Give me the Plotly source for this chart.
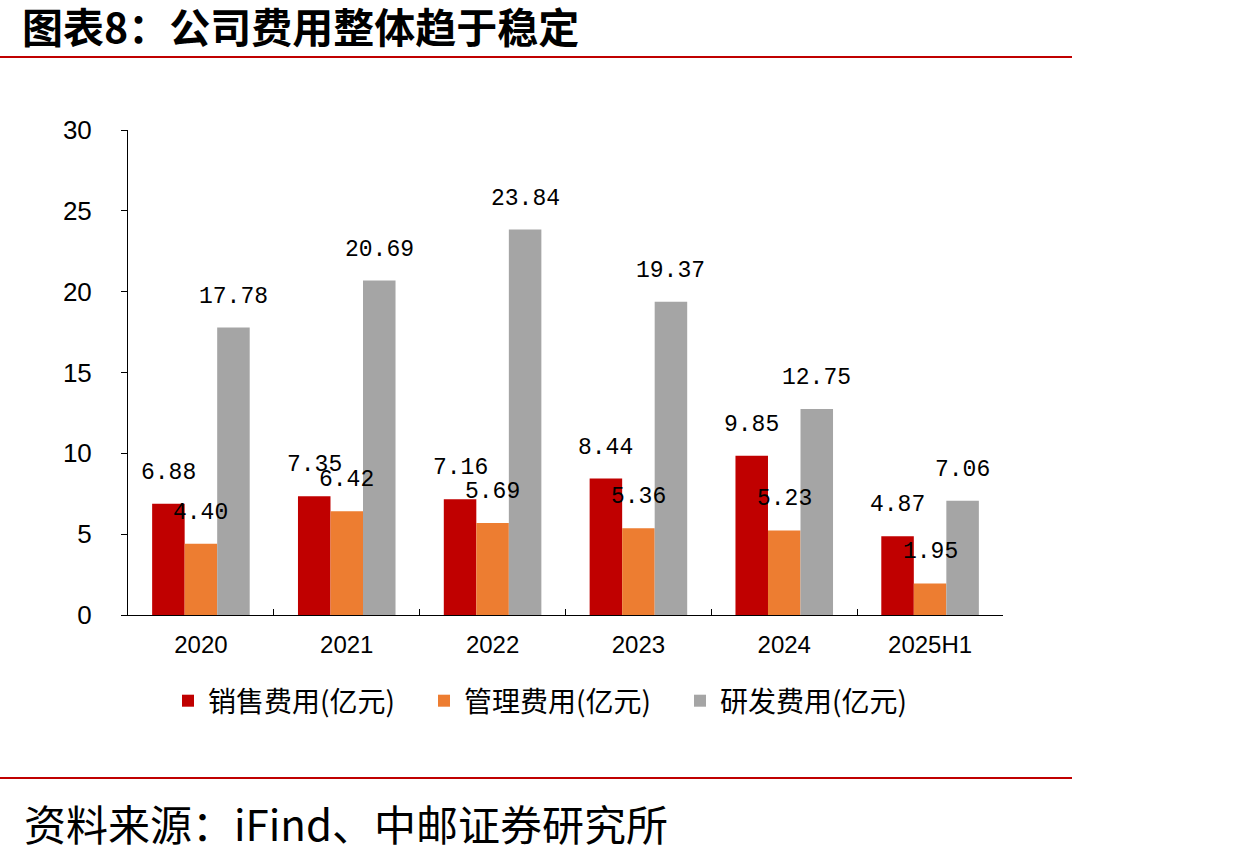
import plotly.graph_objects as go

categories = ["2020", "2021", "2022", "2023", "2024", "2025H1"]
sales = [6.88, 7.35, 7.16, 8.44, 9.85, 4.87]
admin = [4.40, 6.42, 5.69, 5.36, 5.23, 1.95]
rnd = [17.78, 20.69, 23.84, 19.37, 12.75, 7.06]
series_names = ["销售费用(亿元)", "管理费用(亿元)", "研发费用(亿元)"]
series_colors = ["#C00000", "#ED7D31", "#A5A5A5"]
y_ticks = [0, 5, 10, 15, 20, 25, 30]

WIDTH, HEIGHT = 1234, 855
L, R, T, B = 128, 231, 130, 240
PW = WIDTH - L - R
PH = HEIGHT - T - B

def px2x(px):
    return (px - L) / PW

def py2y(py):
    return (HEIGHT - B - py) / PH

fig = go.Figure()
all_series = [sales, admin, rnd]
for name, vals, col in zip(series_names, all_series, series_colors):
    fig.add_trace(go.Bar(x=categories, y=vals, name=name, marker_color=col,
                         marker_line_width=0))

bargap = 0.331
cat_px = PW / len(categories)
bar_px = cat_px * (1 - bargap) / 3

annotations = []
for i, vals in enumerate(all_series):
    for j, v in enumerate(vals):
        annotations.append(dict(
            x=j, y=v, xref="x", yref="y", text=f"{v:.2f}", showarrow=False,
            xanchor="center", yanchor="bottom", xshift=(i - 1) * bar_px, yshift=16,
            font=dict(family="Liberation Mono", size=23, color="#000000")))

annotations.append(dict(
    x=px2x(22), y=py2y(822), xref="paper", yref="paper", xanchor="left", yanchor="middle",
    text="资料来源：iFind、中邮证券研究所", showarrow=False,
    font=dict(family="Noto Sans CJK SC", size=42, color="#000000")))

shapes = [
    dict(type="line", xref="paper", yref="paper", x0=px2x(0), x1=px2x(1072),
         y0=py2y(57), y1=py2y(57), line=dict(color="#C00000", width=2)),
    dict(type="line", xref="paper", yref="paper", x0=px2x(0), x1=px2x(1072),
         y0=py2y(778), y1=py2y(778), line=dict(color="#C00000", width=2)),
]

fig.update_layout(
    width=WIDTH, height=HEIGHT,
    margin=dict(l=L, r=R, t=T, b=B, autoexpand=False),
    paper_bgcolor="white", plot_bgcolor="white",
    barmode="group", bargap=bargap, bargroupgap=0,
    title=dict(text="<b>图表8：公司费用整体趋于稳定</b>", x=22 / WIDTH, xanchor="left",
               y=1 - 29 / HEIGHT, yanchor="middle", xref="container", yref="container",
               font=dict(family="Noto Sans CJK SC", size=41, color="#000000")),
    xaxis=dict(type="category", range=[-0.5, len(categories) - 0.5], showline=True,
               linecolor="#000000", linewidth=1,
               ticks="inside", tickson="boundaries", ticklen=6, tickcolor="#000000",
               showgrid=False,
               tickfont=dict(family="Liberation Sans", size=24, color="#000000"),
               ticklabelstandoff=8),
    yaxis=dict(range=[0, 30], tickvals=y_ticks, showline=True, linecolor="#000000",
               linewidth=1, ticks="outside", ticklen=6, tickcolor="#000000",
               showgrid=False, zeroline=False,
               tickfont=dict(family="Liberation Sans", size=26, color="#000000"),
               ticklabelstandoff=24),
    legend=dict(orientation="h", x=px2x(552), xanchor="center", y=py2y(701),
                yanchor="middle", font=dict(family="Noto Sans CJK SC", size=28,
                                            color="#000000"),
                entrywidth=211, entrywidthmode="pixels", itemwidth=30),
    annotations=annotations, shapes=shapes, showlegend=True,
)

fig.write_html("out.html")
